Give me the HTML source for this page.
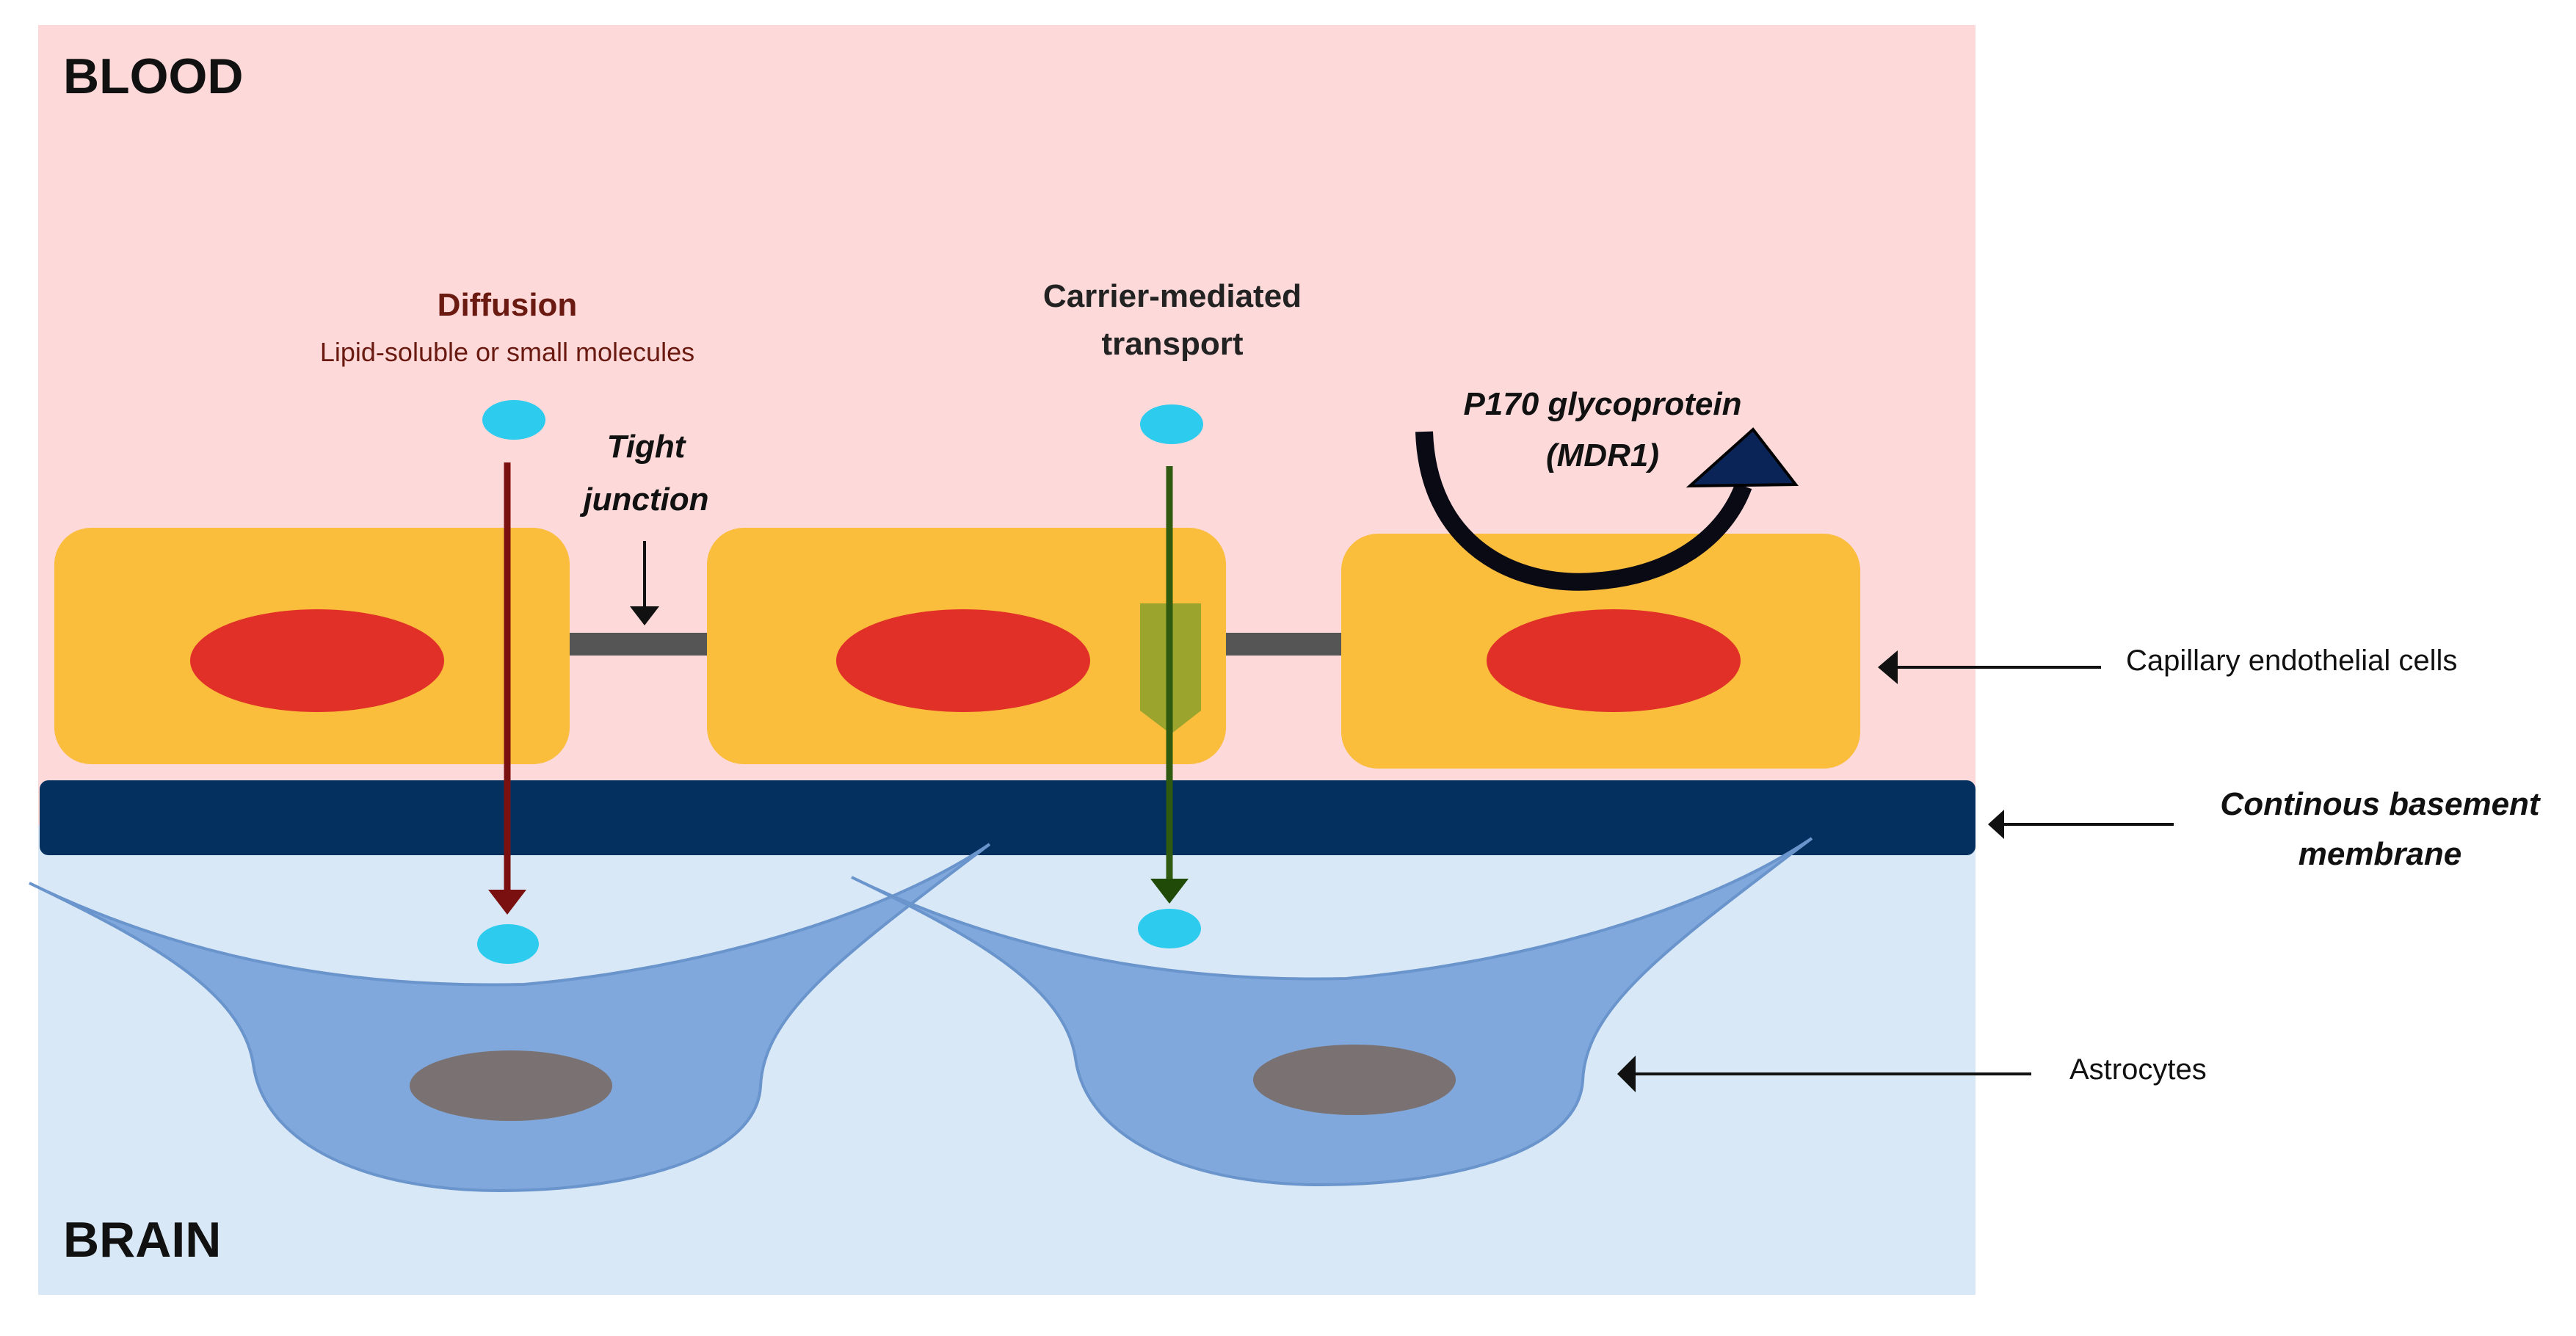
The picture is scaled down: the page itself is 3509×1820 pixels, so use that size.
<!DOCTYPE html>
<html><head><meta charset="utf-8"><style>
html,body{margin:0;padding:0;background:#fff}
svg{display:block}
text{font-family:"Liberation Sans",sans-serif}
</style></head><body>
<svg width="3509" height="1820" viewBox="0 0 3509 1820" xmlns="http://www.w3.org/2000/svg">
<rect x="0" y="0" width="3509" height="1820" fill="#fff"/>
<rect x="52" y="34" width="2639" height="1090" fill="#fdd9d9"/>
<rect x="52" y="1124" width="2639" height="640" fill="#d8e8f6"/>
<!-- cells -->
<rect x="74" y="719" width="702" height="322" rx="50" fill="#fbbd3c"/>
<rect x="963" y="719" width="707" height="322" rx="50" fill="#fbbd3c"/>
<rect x="1827" y="727" width="707" height="320" rx="50" fill="#fbbd3c"/>
<ellipse cx="432" cy="900" rx="173" ry="70" fill="#e03028"/>
<ellipse cx="1312" cy="900" rx="173" ry="70" fill="#e03028"/>
<ellipse cx="2198" cy="900" rx="173" ry="70" fill="#e03028"/>
<rect x="776" y="862" width="187" height="31" fill="#555"/>
<rect x="1670" y="862" width="157" height="31" fill="#555"/>
<!-- membrane -->
<rect x="54" y="1063" width="2637" height="102" rx="12" fill="#03305f"/>
<!-- astrocytes -->
<g id="astro">
<path d="M40,1203 C300,1330 550,1345 714,1341 C950,1320 1200,1250 1348,1150 C1150,1300 1040,1380 1036,1480 C1030,1580 850,1622 680,1622 C500,1622 360,1560 345,1450 C330,1350 200,1280 40,1203 Z" fill="#80a8dc" stroke="#6a94cc" stroke-width="4"/>
</g>
<ellipse cx="696" cy="1479" rx="138" ry="48" fill="#7a7272"/>
<g transform="translate(1120,-8)">
<path d="M40,1203 C300,1330 550,1345 714,1341 C950,1320 1200,1250 1348,1150 C1150,1300 1040,1380 1036,1480 C1030,1580 850,1622 680,1622 C500,1622 360,1560 345,1450 C330,1350 200,1280 40,1203 Z" fill="#80a8dc" stroke="#6a94cc" stroke-width="4"/>
<ellipse cx="725" cy="1479" rx="138" ry="48" fill="#7a7272"/>
</g>
<!-- diffusion arrow -->
<line x1="691" y1="630" x2="691" y2="1215" stroke="#7a1010" stroke-width="9"/>
<polygon points="665,1212 717,1212 691,1246" fill="#7a1010"/>
<ellipse cx="700" cy="572" rx="43" ry="27" fill="#2dccef"/>
<ellipse cx="692" cy="1286" rx="42" ry="27" fill="#2dccef"/>
<!-- carrier -->
<polygon points="1553,822 1636,822 1636,968 1595,1000 1553,968" fill="#8aa02a" opacity="0.85"/>
<line x1="1593" y1="635" x2="1593" y2="1200" stroke="#2f5a10" stroke-width="9"/>
<polygon points="1567,1197 1619,1197 1593,1231" fill="#1f4a08"/>
<ellipse cx="1596" cy="578" rx="43" ry="27" fill="#2dccef"/>
<ellipse cx="1593" cy="1265" rx="43" ry="27" fill="#2dccef"/>
<!-- tight junction arrow -->
<line x1="878" y1="737" x2="878" y2="830" stroke="#111" stroke-width="4"/>
<polygon points="858,826 898,826 878,852" fill="#111"/>
<!-- P170 arrow -->
<path d="M1940,588 C1945,740 2060,800 2170,792 C2280,785 2350,730 2375,662" fill="none" stroke="#0a0a14" stroke-width="24"/>
<polygon points="2302,662 2446,660 2388,585" fill="#0b2458" stroke="#000" stroke-width="4"/>
<!-- side arrows -->
<line x1="2580" y1="909" x2="2862" y2="909" stroke="#111" stroke-width="4"/>
<polygon points="2558,909 2585,886 2585,932" fill="#111"/>
<line x1="2725" y1="1123" x2="2961" y2="1123" stroke="#111" stroke-width="4"/>
<polygon points="2708,1123 2730,1103 2730,1143" fill="#111"/>
<line x1="2225" y1="1463" x2="2767" y2="1463" stroke="#111" stroke-width="4"/>
<polygon points="2203,1463 2228,1438 2228,1488" fill="#111"/>
<!-- text -->
<text x="86" y="127" font-size="68" font-weight="bold" fill="#111">BLOOD</text>
<text x="86" y="1712" font-size="68" font-weight="bold" fill="#111">BRAIN</text>
<text x="691" y="430" font-size="44" font-weight="bold" fill="#6a1a10" text-anchor="middle">Diffusion</text>
<text x="691" y="492" font-size="36" fill="#6a1a10" text-anchor="middle">Lipid-soluble  or small molecules</text>
<text x="1597" y="418" font-size="44" font-weight="bold" fill="#222" text-anchor="middle">Carrier-mediated</text>
<text x="1597" y="483" font-size="44" font-weight="bold" fill="#222" text-anchor="middle">transport</text>
<text x="880" y="623" font-size="44" font-weight="bold" font-style="italic" fill="#111" text-anchor="middle">Tight</text>
<text x="880" y="695" font-size="44" font-weight="bold" font-style="italic" fill="#111" text-anchor="middle">junction</text>
<text x="2183" y="565" font-size="44" font-weight="bold" font-style="italic" fill="#111" text-anchor="middle">P170 glycoprotein</text>
<text x="2183" y="635" font-size="44" font-weight="bold" font-style="italic" fill="#111" text-anchor="middle">(MDR1)</text>
<text x="2896" y="913" font-size="40" fill="#111">Capillary endothelial cells</text>
<text x="3242" y="1110" font-size="44" font-weight="bold" font-style="italic" fill="#111" text-anchor="middle">Continous basement</text>
<text x="3242" y="1178" font-size="44" font-weight="bold" font-style="italic" fill="#111" text-anchor="middle">membrane</text>
<text x="2819" y="1470" font-size="40" fill="#111">Astrocytes</text>
</svg>
</body></html>
